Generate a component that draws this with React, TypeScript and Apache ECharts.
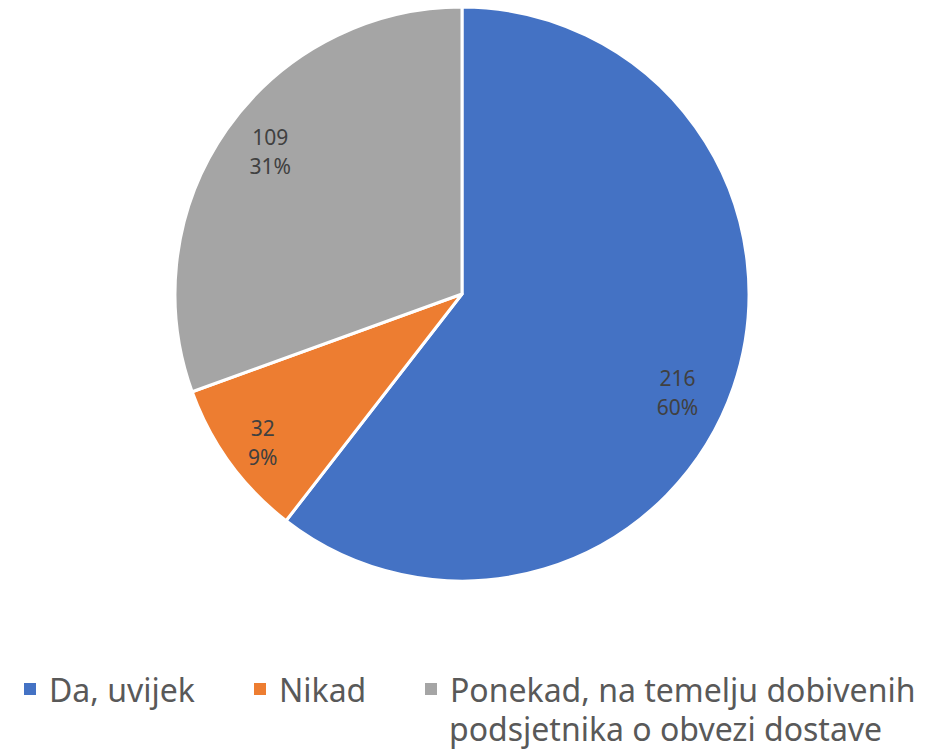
import React, { useEffect, useRef } from "react";
import * as echarts from "echarts";

const categories = [
  "Da, uvijek",
  "Nikad",
  "Ponekad, na temelju dobivenih podsjetnika o obvezi dostave",
];
const values = [216, 32, 109];
const percentLabels = ["60%", "9%", "31%"];
const legendFirstLines = ["Da, uvijek", "Nikad", "Ponekad, na temelju dobivenih"];
const legendSecondLine = "podsjetnika o obvezi dostave";
const colors = ["#4472C4", "#ED7D31", "#A5A5A5"];

const FONT = "'Noto Sans', sans-serif";

export default function App() {
  const ref = useRef<HTMLDivElement>(null);
  useEffect(() => {
    if (!ref.current) return;
    const chart = echarts.init(ref.current, undefined, { renderer: "svg" });
    const labelOffsets = [[-13, 20], [-4, 6], [6, -4]];
    const legendLefts = [22, 252, 423];
    chart.setOption({
      animation: false,
      backgroundColor: "#ffffff",
      color: colors,
      legend: categories.map((c, i) => ({
        data: [c],
        left: legendLefts[i],
        top: 673,
        icon: "rect",
        itemWidth: 14,
        itemHeight: 14,
        padding: 0,
        selectedMode: false,
        formatter: () => legendFirstLines[i],
        textStyle: {
          fontFamily: FONT,
          fontSize: 32,
          color: "#595959",
          padding: [0, 0, 0, 7],
        },
      })),
      graphic: [
        {
          type: "text",
          left: 449,
          top: 712,
          style: {
            text: legendSecondLine,
            font: `32px ${FONT}`,
            fill: "#595959",
          },
        },
      ],
      series: [
        {
          type: "pie",
          center: [462, 294],
          radius: [0, 287],
          startAngle: 90,
          clockwise: true,
          silent: true,
          label: { show: false },
          labelLine: { show: false },
          itemStyle: { borderColor: "#ffffff", borderWidth: 3 },
          data: categories.map((c, i) => ({ name: c, value: values[i] })),
        },
        {
          type: "pie",
          center: [462, 294],
          radius: [190, 287],
          startAngle: 90,
          clockwise: true,
          silent: true,
          legendHoverLink: false,
          itemStyle: { color: "transparent", borderWidth: 0 },
          labelLine: { show: false },
          label: {
            show: true,
            position: "inside",
            fontFamily: FONT,
            fontSize: 21,
            lineHeight: 29,
            color: "#404040",
            align: "center",
          },
          data: categories.map((c, i) => ({
            name: c + " ",
            value: values[i],
            label: {
              formatter: `${values[i]}\n${percentLabels[i]}`,
              offset: labelOffsets[i],
            },
          })),
        },
      ],
    });
    return () => chart.dispose();
  }, []);
  return (
    <div
      ref={ref}
      style={{ position: "fixed", left: 0, top: 0, width: 926, height: 751 }}
    />
  );
}
